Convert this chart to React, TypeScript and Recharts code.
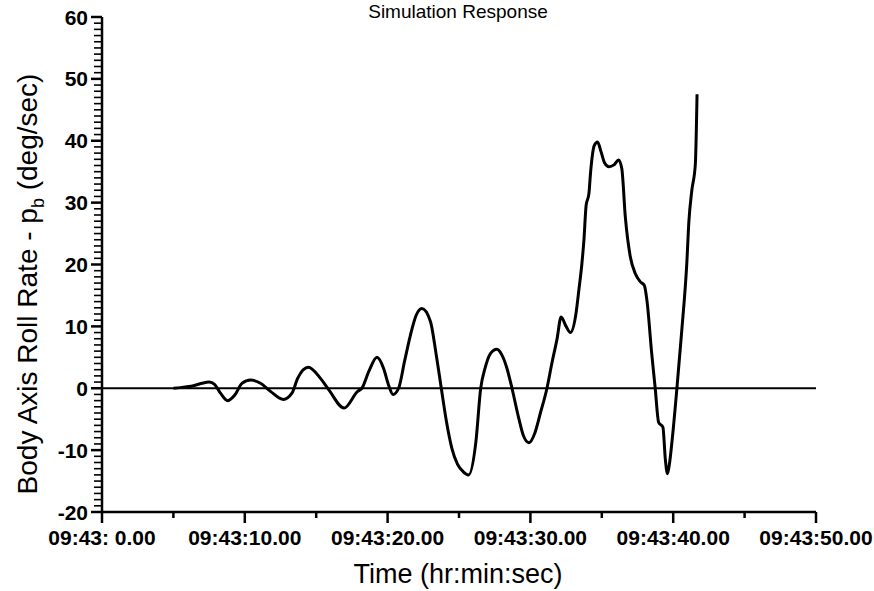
import { Line, LineChart, ReferenceLine, XAxis, YAxis } from 'recharts'

// seconds after 09:43:00
const times = [
  5.0, 5.5, 6.4, 7.0, 7.5, 7.9, 8.3, 8.8, 9.3, 9.8, 10.4, 11.1, 11.8, 12.7, 13.3, 13.7, 14.45, 15.3, 15.9,
  16.95, 17.9, 18.2, 18.7, 19.26, 19.72, 20.07, 20.38, 20.77, 21.2, 21.6, 22.0, 22.4, 23.0, 23.4, 23.76,
  24.13, 24.5, 24.9, 25.3, 25.67, 26.18, 26.52, 26.82, 27.2, 27.65, 28.0, 28.36, 28.71, 29.2, 29.5, 29.9,
  30.3, 30.7, 31.16, 31.5, 31.86, 32.15, 32.5, 32.8, 33.2, 33.4, 33.6, 33.75, 33.9, 34.1, 34.2, 34.47,
  34.7, 34.95, 35.2, 35.5, 35.85, 36.18, 36.4, 36.65, 37.0, 37.35, 37.7, 37.98, 38.16, 38.5, 38.74, 38.98,
  39.28, 39.45, 39.6, 39.75, 39.92, 40.26, 40.6, 40.95, 41.1, 41.3, 41.55, 41.67,
]

// body axis roll rate p_b, deg/sec
const rollRates = [
  0, 0.1, 0.4, 0.8, 1.0, 0.6, -0.8, -2.0, -1.1, 0.8, 1.35, 0.8, -0.5, -1.8, -0.8, 1.6, 3.4, 1.6, -0.3,
  -3.2, -0.5, 0, 2.8, 5.0, 3.2, 0.5, -1.0, 0, 4.5, 8.6, 11.8, 12.9, 10.8, 5.5, 0,
  -5.5, -9.7, -12.3, -13.5, -14.0, -8.7, 0, 3.2, 5.6, 6.3, 5.4, 3.2, 0, -5.0, -7.6, -8.8,
  -7.3, -4.0, 0, 4.0, 7.9, 11.5, 10.0, 9.0, 12.2, 16.0, 20.0, 24.0, 29.5, 31.5, 34.5, 39.2,
  39.8, 38.2, 36.4, 35.8, 36.1, 36.9, 35.5, 27.6, 21.2, 18.5, 17.2, 16.6, 14.2, 5.5, 0, -5.5,
  -6.3, -11.5, -13.8, -12.0, -8.5, 0, 9.3, 20.1, 27.0, 31.9, 36.2, 47.5,
]

const xTicks = [0, 5, 10, 15, 20, 25, 30, 35, 40, 45, 50]
const xTickLabels = ['09:43: 0.00', '', '09:43:10.00', '', '09:43:20.00', '', '09:43:30.00', '', '09:43:40.00', '', '09:43:50.00']
const yMajorTicks = [-20, -10, 0, 10, 20, 30, 40, 50, 60]
// small tick every 1 deg/sec
const yTicks = Array.from({ length: 81 }, (_, i) => i - 20)

const data = times.map((t, i) => ({ t, rate: rollRates[i] }))

const font = '"Liberation Sans", Arial, Helvetica, sans-serif'

function XTick(props: any) {
  const { x, y, payload } = props
  const idx = xTicks.indexOf(payload.value)
  const major = payload.value % 10 === 0
  return (
    <g>
      <line x1={x} x2={x} y1={y} y2={y + (major ? 11 : 6)} stroke="#000" strokeWidth={2.5} />
      {major && (
        <text x={x} y={y + 33} textAnchor="middle" fontSize={21} fontWeight={600} fill="#000" fontFamily={font}>
          {xTickLabels[idx]}
        </text>
      )}
    </g>
  )
}

function YTick(props: any) {
  const { x, y, payload } = props
  const major = yMajorTicks.includes(payload.value)
  return (
    <g>
      <line x1={x - (major ? 11 : 8)} x2={x} y1={y} y2={y} stroke="#000" strokeWidth={major ? 2.5 : 1.6} />
      {major && (
        <text x={x - 14} y={y} dy="0.36em" textAnchor="end" fontSize={21} fontWeight={600} fill="#000" fontFamily={font}>
          {payload.value}
        </text>
      )}
    </g>
  )
}

export default function App() {
  return (
    <div style={{ position: 'absolute', left: 0, top: 0, width: 874, height: 591, background: '#fff' }}>
      <LineChart
        width={874}
        height={591}
        data={data}
        margin={{ top: 17, right: 58, bottom: 0, left: 0 }}
        style={{ fontFamily: font }}
      >
        <XAxis
          dataKey="t"
          type="number"
          domain={[0, 50]}
          ticks={xTicks}
          interval={0}
          height={79}
          tickSize={0}
          tickMargin={0}
          tickLine={false}
          axisLine={{ stroke: '#000', strokeWidth: 2.5 }}
          tick={(p: any) => <XTick {...p} />}
        />
        <YAxis
          type="number"
          domain={[-20, 60]}
          ticks={yTicks}
          interval={0}
          width={102}
          tickSize={0}
          tickMargin={0}
          tickLine={false}
          axisLine={{ stroke: '#000', strokeWidth: 2.5 }}
          tick={(p: any) => <YTick {...p} />}
        />
        <ReferenceLine y={0} stroke="#000" strokeWidth={2} />
        <Line
          dataKey="rate"
          type="monotone"
          stroke="#000"
          strokeWidth={3}
          dot={false}
          isAnimationActive={false}
        />
      </LineChart>
      <svg
        width={874}
        height={591}
        style={{ position: 'absolute', left: 0, top: 0, pointerEvents: 'none', fontFamily: font }}
      >
        <text x={458} y={18} textAnchor="middle" fontSize={19} fill="#000">
          Simulation Response
        </text>
        <text x={458} y={583} textAnchor="middle" fontSize={27} fill="#000">
          Time (hr:min:sec)
        </text>
        <text x={0} y={0} transform="translate(37 284) rotate(-90)" textAnchor="middle" fontSize={28} fill="#000">
          Body Axis Roll Rate - p<tspan dy={7} fontSize={18}>b</tspan>
          <tspan dy={-7}> (deg/sec)</tspan>
        </text>
      </svg>
    </div>
  )
}
